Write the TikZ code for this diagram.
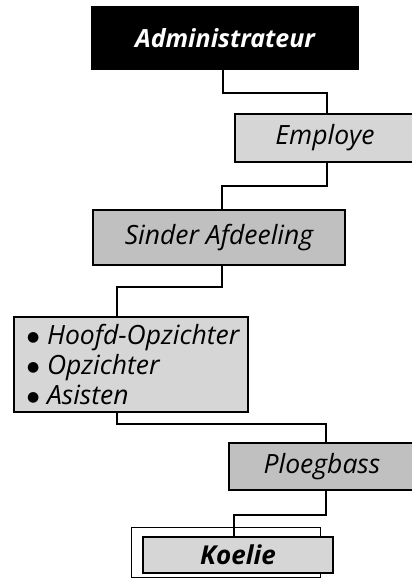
\documentclass[tikz,border=0pt]{standalone}
\usepackage{fontspec}
\setmainfont{Open Sans}
\newfontfamily\dejavu{DejaVu Sans}
\definecolor{lightbox}{HTML}{D6D6D6}
\definecolor{midbox}{HTML}{C0C0C0}
\newcommand{\bigdot}{\makebox[30pt][l]{\hspace{10pt}\raisebox{3pt}{\dejavu\fontsize{14}{14}\selectfont ●}}}
\begin{document}
\begin{tikzpicture}[x=1pt,y=-1pt,
  box/.style={draw=black,line width=2pt,inner sep=0pt,font=\fontsize{26.5}{30}\selectfont\itshape},
  conn/.style={line width=2pt}]
\useasboundingbox (0,0) rectangle (412,578);
\clip (0,0) rectangle (412,578);
\node[box,fill=black,text=white,font=\fontsize{25}{30}\selectfont\bfseries\itshape,
  minimum width=266pt,minimum height=62pt] (adm) at (225,38) {Administrateur};
\node[box,fill=lightbox,minimum width=180pt,minimum height=48pt] (emp) at (325,138) {Employe};
\node[box,fill=midbox,minimum width=252pt,minimum height=55pt] (sind) at (219,237.5) {Sinder Afdeeling};
\node[box,fill=lightbox,minimum width=234pt,minimum height=95pt,text width=228pt,align=left,
  font=\fontsize{26.5}{30}\selectfont\itshape] (bul) at (131,364.5)
  {\bigdot Hoofd-Opzichter\\
   \bigdot Opzichter\\
   \bigdot Asisten};
\node[box,fill=midbox,minimum width=186pt,minimum height=47pt] (plo) at (322,466.5) {Ploegbass};
\node[draw=black,line width=1pt,minimum width=189pt,minimum height=50pt,inner sep=0pt] (kfr) at (225.5,552) {};
\node[box,fill=lightbox,font=\fontsize{26}{30}\selectfont\bfseries\itshape,
  minimum width=190pt,minimum height=36pt] (koe) at (238,555) {Koelie};
\draw[conn] ([xshift=-2pt]adm.south) -- ++(0,23) -| ([xshift=2pt]emp.north);
\draw[conn] ([xshift=2pt]emp.south) -- ++(0,23) -| ([xshift=3pt]sind.north);
\draw[conn] ([xshift=3pt]sind.south) -- ++(0,21) -| ([xshift=-14pt]bul.north);
\draw[conn] ([xshift=-14pt]bul.south) -- ++(0,11) -| ([xshift=4pt]plo.north);
\draw[conn] ([xshift=4pt]plo.south) -- ++(0,24) -| ([xshift=-4pt]koe.north);
\end{tikzpicture}
\end{document}
